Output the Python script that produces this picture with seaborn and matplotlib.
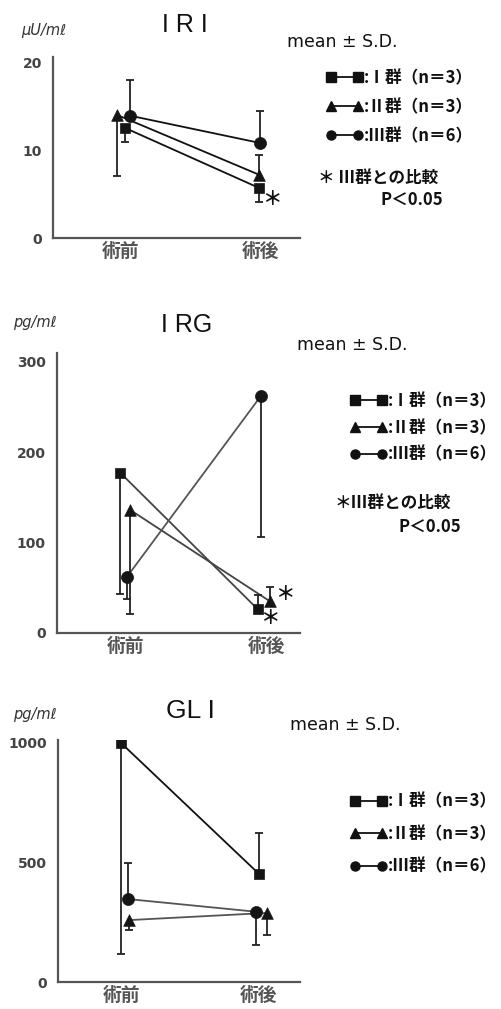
import matplotlib
matplotlib.use("Agg")
import matplotlib.pyplot as plt
from matplotlib.lines import Line2D
import numpy as np
import pandas as pd
import seaborn as sns

# ---------------- data ----------------
periods = ["術前", "術後"]
groups = ["I", "II", "III"]
group_labels = [":Ⅰ群（n＝3）", ":Ⅱ群（n＝3）", ":Ⅲ群（n＝6）"]

# IRI (μU/ml): mean and the far end of the one-sided SD bar
iri_g1 = [12.5, 5.7]
iri_g2 = [14.0, 7.2]
iri_g3 = [13.9, 10.8]
iri_g1_sd = [10.9, 4.1]
iri_g2_sd = [7.0, 9.4]
iri_g3_sd = [18.0, 14.4]

# IRG (pg/ml)
irg_g1 = [177, 26]
irg_g2 = [136, 35]
irg_g3 = [62, 262]
irg_g1_sd = [43, 42]
irg_g2_sd = [21, 51]
irg_g3_sd = [38, 106]

# GLI (pg/ml)
gli_g1 = [1000, 452]
gli_g2 = [259, 289]
gli_g3 = [347, 294]
gli_g1_sd = [117, 625]
gli_g2_sd = [218, 197]
gli_g3_sd = [498, 155]

iri_ticks = [0, 10, 20]
irg_ticks = [0, 100, 200, 300]
gli_ticks = [0, 500, 1000]

# ---------------- layout helpers ----------------
W, H = 501, 1009
fig = plt.figure(figsize=(W / 100, H / 100), dpi=100)
sns.set_style("white")
CJK = ["Noto Sans CJK JP", "DejaVu Sans"]
plt.rcParams["font.family"] = CJK


def fx(x):
    return x / W


def fy(y):
    return 1 - y / H


panels = [
    dict(title="I R I", unit="μU/mℓ", means=[iri_g1, iri_g2, iri_g3],
         sds=[iri_g1_sd, iri_g2_sd, iri_g3_sd], ticks=iri_ticks,
         rect=(53, 57, 300, 238), ylim=(0, 20.57), xlim=(-0.486, 1.279),
         offsets={"I": [0.03, -0.015], "II": [-0.03, -0.015], "III": [0.065, -0.007]},
         line_colors={"I": "#111", "II": "#111", "III": "#111"},
         title_pos=(185, 25), title_size=18, unit_pos=(44, 31),
         mean_pos=(287, 42), legend_x=326, legend_rows=(77, 107, 136),
         note=("＊ Ⅲ群との比較", (318, 178)), p_pos=(380, 200),
         stars=[("I", 1, 13, -12)]),
    dict(title="I RG", unit="pg/mℓ", means=[irg_g1, irg_g2, irg_g3],
         sds=[irg_g1_sd, irg_g2_sd, irg_g3_sd], ticks=irg_ticks,
         rect=(57, 353, 300, 633), ylim=(0, 309.4), xlim=(-0.489, 1.234),
         offsets={"I": [-0.04, -0.064], "II": [0.03, 0.021], "III": [0.007, -0.043]},
         line_colors={"I": "#444", "II": "#444", "III": "#555"},
         title_pos=(187, 325), title_size=18, unit_pos=(35, 323),
         mean_pos=(297, 345), legend_x=350, legend_rows=(401, 428, 455),
         note=("＊Ⅲ群との比較", (335, 503)), p_pos=(398, 527),
         stars=[("I", 1, 12, -9), ("II", 1, 15, 7)]),
    dict(title="GL I", unit="pg/mℓ", means=[gli_g1, gli_g2, gli_g3],
         sds=[gli_g1_sd, gli_g2_sd, gli_g3_sd], ticks=gli_ticks,
         rect=(58, 740, 300, 982), ylim=(0, 1012.5), xlim=(-0.457, 1.297),
         offsets={"I": [0.0, 0.0], "II": [0.058, 0.058], "III": [0.05, -0.022]},
         line_colors={"I": "#111", "II": "#555", "III": "#555"},
         title_pos=(190, 711), title_size=19, unit_pos=(35, 715),
         mean_pos=(290, 725), legend_x=350, legend_rows=(801, 834, 867),
         note=None, p_pos=None, stars=[]),
]

markers = {"I": "s", "II": "^", "III": "o"}
msize = {"I": 55, "II": 70, "III": 75}

for p in panels:
    l, t, r, b = p["rect"]
    ax = fig.add_axes([fx(l), fy(b), (r - l) / W, (b - t) / H])

    rows = []
    for g, m, s in zip(groups, p["means"], p["sds"]):
        for i, per in enumerate(periods):
            rows.append(dict(group=g, period=per, x=i + p["offsets"][g][i],
                             value=m[i], sd_end=s[i]))
    df = pd.DataFrame(rows)

    sns.lineplot(data=df, x="x", y="value", hue="group", palette=p["line_colors"],
                 estimator=None, sort=True, legend=False, lw=1.3, ax=ax, zorder=2)
    for g in groups:
        sub = df[df.group == g]
        ax.vlines(sub.x, sub.value, sub.sd_end, color="#222", lw=1.3, zorder=2)
        ax.hlines(sub.sd_end, sub.x - 0.028, sub.x + 0.028, color="#222", lw=1.3, zorder=2)
        sns.scatterplot(data=sub, x="x", y="value", marker=markers[g], s=msize[g],
                        color="#151515", edgecolor="#151515", linewidth=0.5,
                        legend=False, ax=ax, zorder=3)

    for g, i, dx, dy in p["stars"]:
        row = df[(df.group == g) & (df.period == periods[i])].iloc[0]
        ax.annotate("＊", (row.x, row.value), xytext=(dx * 0.72, dy * 0.72),
                    textcoords="offset points", ha="center", va="center",
                    fontsize=14, fontweight="bold", color="#111", annotation_clip=False)

    ax.set_xlim(*p["xlim"])
    ax.set_ylim(*p["ylim"])
    ax.set_xticks([0, 1])
    ax.set_xticklabels(periods, fontsize=13.5, fontweight="bold", color="#555")
    ax.set_yticks(p["ticks"])
    ax.set_yticklabels([str(v) for v in p["ticks"]], fontsize=10, fontweight="bold",
                       color="#444", family="DejaVu Sans")
    ax.tick_params(axis="y", length=0, pad=8)
    ax.tick_params(axis="x", length=0, pad=3)
    ax.set_xlabel("")
    ax.set_ylabel("")
    for side in ["top", "right"]:
        ax.spines[side].set_visible(False)
    for side in ["left", "bottom"]:
        ax.spines[side].set_linewidth(1.6)
        ax.spines[side].set_color("#555")
    ax.patch.set_alpha(0)

    # titles and annotations
    fig.text(fx(p["title_pos"][0]), fy(p["title_pos"][1]), p["title"],
             family="Liberation Sans", fontsize=p["title_size"], ha="center", va="center",
             color="#111")
    fig.text(fx(p["unit_pos"][0]), fy(p["unit_pos"][1]), p["unit"], family="DejaVu Sans",
             fontsize=10.5, style="italic", ha="center", va="center", color="#333")
    fig.text(fx(p["mean_pos"][0]), fy(p["mean_pos"][1]), "mean ± S.D.",
             family="DejaVu Sans", fontsize=12.5, ha="left", va="center", color="#111")

    handles = [Line2D([0], [0], color="#111", lw=1.3, marker=markers[g],
                      markersize=6.5 if g != "II" else 7.5, markeredgecolor="#111")
               for g in groups]
    rows_y = p["legend_rows"]
    pitch = (rows_y[2] - rows_y[0]) / 2
    fs = 12
    fpx = fs * 100 / 72
    leg = ax.legend(handles, group_labels, loc="center left",
                    bbox_to_anchor=(fx(p["legend_x"]), fy(rows_y[1])),
                    bbox_transform=fig.transFigure, numpoints=2, handlelength=2.2,
                    handletextpad=0.1, frameon=False, borderpad=0, borderaxespad=0,
                    labelspacing=(pitch - fpx * 1.1) / fpx,
                    prop=dict(family=CJK, weight="bold", size=fs))
    for txt in leg.get_texts():
        txt.set_color("#111")

    if p["note"]:
        txt, (nx, ny) = p["note"]
        fig.text(fx(nx), fy(ny), txt, family=CJK, fontsize=12, fontweight="bold",
                 ha="left", va="center", color="#111")
        fig.text(fx(p["p_pos"][0]), fy(p["p_pos"][1]), "P＜0.05", family=CJK,
                 fontsize=12, fontweight="bold", ha="left", va="center", color="#111")

fig.savefig("out.png", dpi=100)
